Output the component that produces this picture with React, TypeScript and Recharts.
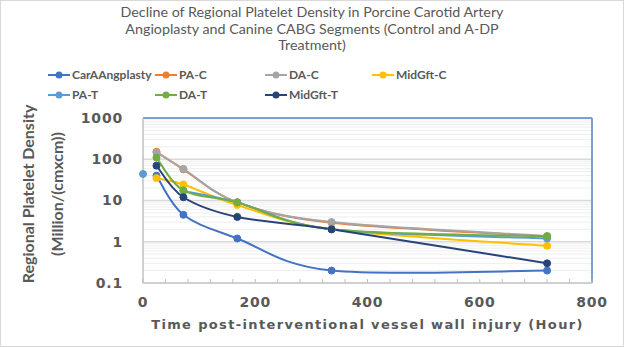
import { LineChart, Line, XAxis, YAxis, ReferenceLine } from "recharts";

const hours = [0, 24, 72, 168, 336, 720];

const carAAngplasty = [null, 40, 4.5, 1.2, 0.2, 0.2];
const paC = [null, 152, 57, 9, 2.9, 1.35];
const daC = [null, 147, 58, 9, 3, 1.38];
const midGftC = [null, 35, 24.5, 7.8, 2, 0.8];
const paT = [44, null, 17, 9, 2, 1.2];
const daT = [null, 110, 17.7, 9, 2, 1.35];
const midGftT = [null, 70, 12, 4, 2, 0.3];

const yTicks = [0.1, 1, 10, 100, 1000];
const xTicks = [0, 40, 80, 120, 160, 200, 240, 280, 320, 360, 400, 440, 480, 520, 560, 600, 640, 680, 720, 760, 800];
const xLabels = [0, 200, 400, 600, 800];

const series = [
  { key: "carA", name: "CarAAngplasty", values: carAAngplasty, color: "#4472C4" },
  { key: "paC", name: "PA-C", values: paC, color: "#ED7D31" },
  { key: "daC", name: "DA-C", values: daC, color: "#A5A5A5" },
  { key: "midC", name: "MidGft-C", values: midGftC, color: "#FFC000" },
  { key: "paT", name: "PA-T", values: paT, color: "#5B9BD5" },
  { key: "daT", name: "DA-T", values: daT, color: "#70AD47" },
  { key: "midT", name: "MidGft-T", values: midGftT, color: "#264478" },
];

const data = hours.map((h, i) => {
  const row: any = { h };
  series.forEach((s) => (row[s.key] = s.values[i]));
  return row;
});

const minorLines = [0.1, 1, 10, 100].flatMap((d) => [2, 3, 4, 5, 6, 7, 8, 9].map((k) => k * d));

// excel-like smoothed line (catmull-rom style bezier)
function smoothCurve(context: any) {
  let pts: number[][] = [];
  return {
    areaStart() {},
    areaEnd() {},
    lineStart() {
      pts = [];
    },
    point(x: number, y: number) {
      pts.push([+x, +y]);
    },
    lineEnd() {
      if (!pts.length) return;
      context.moveTo(pts[0][0], pts[0][1]);
      for (let i = 0; i < pts.length - 1; i++) {
        const p0 = pts[i - 1] || pts[i];
        const p1 = pts[i];
        const p2 = pts[i + 1];
        const p3 = pts[i + 2] || p2;
        context.bezierCurveTo(
          p1[0] + (p2[0] - p0[0]) / 6,
          p1[1] + (p2[1] - p0[1]) / 6,
          p2[0] - (p3[0] - p1[0]) / 6,
          p2[1] - (p3[1] - p1[1]) / 6,
          p2[0],
          p2[1]
        );
      }
    },
  };
}

const legendCols = [48, 155, 265, 372];

const tickStyle = { fill: "#595959", fontFamily: "DejaVu Sans", fontWeight: 700, fontSize: 14, letterSpacing: 0.8 };

export default function App() {
  return (
    <div style={{ position: "absolute", left: 0, top: 0, width: 624, height: 347, background: "#fff" }}>
      <div
        style={{
          position: "absolute",
          left: 0,
          top: 4,
          width: 624,
          textAlign: "center",
          fontFamily: "Lato",
          fontSize: 14.3,
          lineHeight: "16.5px",
          color: "#595959",
        }}
      >
        Decline of Regional Platelet Density in Porcine Carotid Artery
        <br />
        Angioplasty and Canine CABG Segments (Control and A-DP
        <br />
        Treatment)
      </div>

      {series.map((s, i) => (
        <div
          key={s.key}
          style={{
            position: "absolute",
            left: legendCols[i % 4],
            top: i < 4 ? 67 : 87,
            display: "flex",
            alignItems: "center",
            fontFamily: "Lato",
            fontWeight: 700,
            fontSize: 12,
            color: "#595959",
            whiteSpace: "nowrap",
          }}
        >
          <svg width={24} height={14}>
            <line x1={0} y1={7} x2={22} y2={7} stroke={s.color} strokeWidth={2} />
            <circle cx={11} cy={7} r={3.5} fill={s.color} />
          </svg>
          <span>{s.name}</span>
        </div>
      ))}

      <svg style={{ position: "absolute", left: 0, top: 0 }} width={100} height={347}>
        <text
          transform="translate(34,194) rotate(-90)"
          textAnchor="middle"
          fontFamily="Lato"
          fontWeight={700}
          fontSize={16}
          fill="#595959"
        >
          Regional Platelet Density
        </text>
        <text
          transform="translate(63,194) rotate(-90)"
          textAnchor="middle"
          fontFamily="Lato"
          fontWeight={700}
          fontSize={16}
          fill="#595959"
        >
          (Million/(cmxcm))
        </text>
      </svg>

      <div style={{ position: "absolute", left: 0, top: 0 }}>
        <LineChart width={624} height={347} data={data} margin={{ top: 118, right: 32, bottom: 24, left: 83 }}>
          {minorLines.map((v) => (
            <ReferenceLine key={"m" + v} y={v} stroke="#eeeeee" strokeWidth={1} ifOverflow="hidden" />
          ))}
          {[1, 10, 100].map((v) => (
            <ReferenceLine key={"g" + v} y={v} stroke="#d9d9d9" strokeWidth={1.5} />
          ))}
          <ReferenceLine y={1000} stroke="#7f9fd3" strokeWidth={2} />
          <ReferenceLine x={800} stroke="#7f9fd3" strokeWidth={2} />
          <XAxis
            dataKey="h"
            type="number"
            domain={[0, 800]}
            ticks={xTicks}
            interval={0}
            height={40}
            tickSize={4}
            tickMargin={10}
            tickFormatter={(v: number) => (xLabels.includes(v) ? String(v) : "")}
            axisLine={{ stroke: "#c0c0c0", strokeWidth: 1.5 }}
            tickLine={{ stroke: "#c0c0c0", transform: "translate(0,-4)" }}
            tick={tickStyle}
            label={{
              value: "Time post-interventional vessel wall injury (Hour)",
              position: "insideBottom",
              offset: -6,
              fill: "#595959",
              fontFamily: "DejaVu Sans",
              fontWeight: 700,
              fontSize: 13,
              letterSpacing: 1.35,
            }}
          />
          <YAxis
            scale="log"
            domain={[0.1, 1000]}
            ticks={yTicks}
            allowDataOverflow
            width={60}
            tickSize={0}
            tickMargin={20}
            tickFormatter={(v: number) => String(v)}
            axisLine={{ stroke: "#c0c0c0", strokeWidth: 1.5 }}
            tickLine={false}
            tick={tickStyle}
          />
          {series.map((s) => (
            <Line
              key={s.key}
              dataKey={s.key}
              name={s.name}
              type={smoothCurve as any}
              stroke={s.color}
              strokeWidth={2}
              dot={{ r: 3.5, fill: s.color, stroke: s.color, strokeWidth: 1 }}
              connectNulls={false}
              isAnimationActive={false}
            />
          ))}
        </LineChart>
      </div>

      <div
        style={{
          position: "absolute",
          left: 0,
          top: 0,
          width: 624,
          height: 347,
          boxSizing: "border-box",
          border: "1px solid #d9d9d9",
          pointerEvents: "none",
        }}
      />
    </div>
  );
}
